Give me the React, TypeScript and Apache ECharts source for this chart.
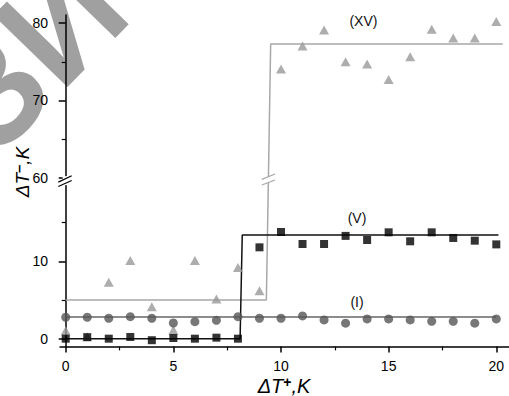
import React, { useEffect, useRef } from "react";
import * as echarts from "echarts";

// ---- data ----
const xValues = [0, 1, 2, 3, 4, 5, 6, 7, 8, 9, 10, 11, 12, 13, 14, 15, 16, 17, 18, 19, 20];
const seriesI = [2.77, 2.77, 2.64, 2.85, 2.64, 2.03, 2.2, 2.38, 2.85, 2.64, 2.64, 2.94, 2.42, 2.0, 2.55, 2.55, 2.42, 2.25, 2.25, 2.0, 2.55];
const seriesV = [0, 0.2, 0, 0.22, -0.2, 0.09, 0, 0.13, 0, 11.82, 13.8, 12.25, 12.25, 13.3, 12.77, 13.76, 12.6, 13.76, 13.03, 12.68, 12.2];
const seriesXV = [1.04, 0.26, 7.3, 10.1, 4.14, 1.13, 10.1, 5.13, 9.2, 6.2, 74.06, 77.04, 79.1, 75.0, 74.7, 72.7, 75.65, 79.2, 78.07, 78.07, 80.2];
const fitI = [[0, 2.8], [20, 2.8]];
const fitV = [[0, 0], [8.1, 0], [8.2, 13.4], [20.1, 13.4]];
const fitXV = [[0, 5], [9.32, 5], [9.52, 77.3], [20.3, 77.3]];
const xTicks = [0, 5, 10, 15, 20];
const xMinorTicks = [2.5, 7.5, 12.5, 17.5];
const yTicksLow = [0, 10];
const yTicksHigh = [60, 70, 80];
const yMinorLow = [5, 15];
const yMinorHigh = [65, 75];
const seriesLabels = ["(XV)", "(V)", "(I)"];

// broken axis: upper segment (60..81) is shifted down to sit right above the lower one
const UPPER_SHIFT = 39.17;
const SPLIT = 40;
const mapY = (v: number) => (v >= SPLIT ? v - UPPER_SHIFT : v);
const unmapY = (v: number) => (v > 20.6 ? v + UPPER_SHIFT : v);
const Y_MIN = -1;
const Y_MAX = mapY(81.05);
const X_MIN = -0.265;
const X_MAX = 20.59;
const BREAK_AXIS = 20.45;
const BREAK_LINE = 20.57;

const FONT = "'Liberation Sans', Arial, sans-serif";

export default function App() {
  const ref = useRef<HTMLDivElement>(null);
  useEffect(() => {
    if (!ref.current) return;
    const chart = echarts.init(ref.current, null, { renderer: "svg" });
    const yMajor = [...yTicksLow, ...yTicksHigh].map(mapY);
    const yMinor = [...yMinorLow, ...yMinorHigh].map(mapY);
    const axisColor = "#000";
    const baseY = {
      type: "value",
      min: Y_MIN,
      max: Y_MAX,
      position: "left",
      splitLine: { show: false },
    };
    const baseX = {
      type: "value",
      min: X_MIN,
      max: X_MAX,
      position: "bottom",
      splitLine: { show: false },
    };
    const option: any = {
      animation: false,
      backgroundColor: "#fff",
      grid: { left: 60, right: 0, top: 15, bottom: 49.6 },
      xAxis: [
        {
          ...baseX,
          axisLine: { show: true, onZero: false, lineStyle: { color: axisColor, width: 1.5 } },
          axisTick: { show: true, length: 6, customValues: xTicks, lineStyle: { color: axisColor, width: 1.5 } },
          axisLabel: { customValues: xTicks, fontSize: 14, color: "#000", margin: 13, fontFamily: FONT },
        },
        {
          ...baseX,
          axisLine: { show: false, onZero: false },
          axisTick: { show: true, length: 4, customValues: xMinorTicks, lineStyle: { color: axisColor, width: 1.2 } },
          axisLabel: { show: false },
        },
      ],
      yAxis: [
        {
          ...baseY,
          axisLine: { show: true, onZero: true, onZeroAxisIndex: 0, lineStyle: { color: axisColor, width: 1.5 } },
          axisTick: { show: true, length: 7, customValues: yMajor, lineStyle: { color: axisColor, width: 1.5 } },
          axisLabel: {
            customValues: yMajor,
            fontSize: 14,
            color: "#000",
            margin: 12,
            fontFamily: FONT,
            formatter: (v: number) => String(Math.round(unmapY(v))),
          },
        },
        {
          ...baseY,
          axisLine: { show: false, onZero: true, onZeroAxisIndex: 0 },
          axisTick: { show: true, length: 4, customValues: yMinor, lineStyle: { color: axisColor, width: 1.2 } },
          axisLabel: { show: false },
        },
      ],
      series: [
        {
          type: "line",
          data: fitXV.map(([x, y]) => [x, mapY(y)]),
          symbol: "none",
          lineStyle: { color: "#a8a8a8", width: 1.5 },
          z: 1,
        },
        {
          type: "line",
          data: fitV.map(([x, y]) => [x, mapY(y)]),
          symbol: "none",
          lineStyle: { color: "#111", width: 1.5 },
          z: 1,
        },
        {
          type: "line",
          data: fitI.map(([x, y]) => [x, mapY(y)]),
          symbol: "none",
          lineStyle: { color: "#666", width: 1.5 },
          z: 1,
        },
        {
          type: "scatter",
          data: xValues.map((x, i) => [x, mapY(seriesXV[i])]),
          symbol: "triangle",
          symbolSize: [10, 9],
          itemStyle: { color: "#999" },
          z: 3,
        },
        {
          type: "scatter",
          data: xValues.map((x, i) => [x, mapY(seriesI[i])]),
          symbol: "circle",
          symbolSize: 9,
          itemStyle: { color: "#555" },
          z: 3,
        },
        {
          type: "scatter",
          data: xValues.map((x, i) => [x, mapY(seriesV[i])]),
          symbol: "rect",
          symbolSize: 8,
          itemStyle: { color: "#000" },
          z: 4,
        },
      ],
    };
    chart.setOption(option);

    const px = (x: number, y: number) =>
      chart.convertToPixel({ xAxisIndex: 0, yAxisIndex: 0 }, [x, y]) as number[];
    const a = px(0, BREAK_AXIS);
    // point on the slanted step of the XV fit at the break height
    const y0 = mapY(fitXV[1][1]);
    const y1 = mapY(fitXV[2][1]);
    const t = (BREAK_LINE - y0) / (y1 - y0);
    const bx = fitXV[1][0] + t * (fitXV[2][0] - fitXV[1][0]);
    const b = px(bx, BREAK_LINE);
    const la = px(13.83, mapY(80.3));
    const lb = px(13.53, 15.6);
    const lc = px(13.53, 4.75);

    const rich = (sup: string, size: number, supSize: number) => ({
      text: `{a|ΔT}{s|${sup}}{a|,K}`,
      rich: {
        a: { fontSize: size, fontStyle: "italic", fontFamily: FONT, fill: "#000", lineHeight: 22 },
        s: { fontSize: supSize, fontFamily: FONT, fontWeight: "bold", fill: "#000", verticalAlign: "top", lineHeight: 22 },
      },
      align: "center",
      verticalAlign: "middle",
    });

    chart.setOption({
      graphic: [
        {
          type: "text",
          x: 28,
          y: 53,
          rotation: 0.8,
          z: -10,
          style: {
            text: "ЗИ",
            fontSize: 150,
            fontWeight: "bold",
            fontFamily: FONT,
            fill: "#a0a0a0",
            align: "center",
            verticalAlign: "middle",
          },
        },
        // y-axis break
        { type: "rect", z: 100, shape: { x: a[0] - 3, y: a[1] - 4.5, width: 6, height: 9 }, style: { fill: "#fff" } },
        { type: "line", z: 101, shape: { x1: a[0] - 7.4, y1: a[1] + 1.5, x2: a[0] + 6, y2: a[1] - 4.8 }, style: { stroke: "#000", lineWidth: 1.2 } },
        { type: "line", z: 101, shape: { x1: a[0] - 7.4, y1: a[1] + 5.9, x2: a[0] + 6, y2: a[1] - 0.1 }, style: { stroke: "#000", lineWidth: 1.2 } },
        // XV step break
        { type: "rect", z: 100, shape: { x: b[0] - 2.5, y: b[1] - 3, width: 5, height: 6 }, style: { fill: "#fff" } },
        { type: "line", z: 101, shape: { x1: b[0] - 6.6, y1: b[1] - 0.4, x2: b[0] + 6.7, y2: b[1] - 5.7 }, style: { stroke: "#a8a8a8", lineWidth: 1.3 } },
        { type: "line", z: 101, shape: { x1: b[0] - 6.6, y1: b[1] + 5.3, x2: b[0] + 6.7, y2: b[1] + 0.3 }, style: { stroke: "#a8a8a8", lineWidth: 1.3 } },
        // series labels
        { type: "text", z: 50, x: la[0], y: la[1], style: { text: seriesLabels[0], fontSize: 14, fontFamily: FONT, fill: "#111", align: "center", verticalAlign: "middle" } },
        { type: "text", z: 50, x: lb[0], y: lb[1], style: { text: seriesLabels[1], fontSize: 14, fontFamily: FONT, fill: "#111", align: "center", verticalAlign: "middle" } },
        { type: "text", z: 50, x: lc[0], y: lc[1], style: { text: seriesLabels[2], fontSize: 14, fontFamily: FONT, fill: "#111", align: "center", verticalAlign: "middle" } },
        // axis titles
        { type: "text", z: 50, x: 284, y: 386, style: rich("+", 20, 14) },
        { type: "text", z: 50, x: 22, y: 172, rotation: Math.PI / 2, style: rich("–", 19, 15) },
      ],
    });

    return () => chart.dispose();
  }, []);
  return (
    <div
      ref={ref}
      style={{ position: "fixed", left: 0, top: 0, width: 509, height: 396 }}
    />
  );
}
